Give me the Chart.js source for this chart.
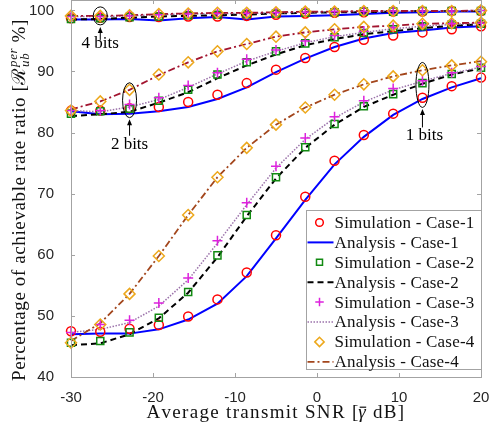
<!DOCTYPE html>
<html><head><meta charset="utf-8">
<script src="https://cdn.jsdelivr.net/npm/chart.js@4/dist/chart.umd.min.js"></script>
<style>html,body{margin:0;padding:0;background:#fff}canvas{display:block}</style>
</head><body><canvas id="c" width="491" height="434"></canvas>
<script>
// ---------------- data ----------------
const snrDb = [-30, -26.43, -22.86, -19.29, -15.71, -12.14, -8.57, -5, -1.43, 2.14, 5.71, 9.29, 12.86, 16.43, 20];
const xTickValues = [-30, -20, -10, 0, 10, 20];
const yTickValues = [40, 50, 60, 70, 80, 90, 100];
const legendLabels = ['Simulation - Case-1', 'Analysis - Case-1', 'Simulation - Case-2', 'Analysis - Case-2',
                      'Simulation - Case-3', 'Analysis - Case-3', 'Simulation - Case-4', 'Analysis - Case-4'];
const bitLabels = ['1 bits', '2 bits', '4 bits'];

// 1 bit
const sim1_b1 = [47.5, 47.4, 47.9, 48.5, 49.9, 52.7, 57.1, 63.2, 69.5, 75.4, 79.6, 83.1, 85.7, 87.6, 89.0];
const ana1_b1 = [47.0, 47.1, 47.1, 47.8, 49.4, 52.0, 56.5, 62.7, 69.0, 74.8, 79.3, 82.9, 85.5, 87.4, 88.9];
const sim2_b1 = [45.6, 45.9, 47.3, 49.7, 53.9, 59.9, 66.5, 72.7, 77.6, 81.4, 84.3, 86.3, 88.1, 89.6, 90.6];
const ana2_b1 = [45.2, 45.5, 47.0, 49.6, 53.8, 59.6, 66.3, 72.5, 77.5, 81.3, 84.2, 86.2, 88.0, 89.5, 90.5];
const sim3_b1 = [47.3, 48.6, 49.3, 52.1, 56.2, 62.3, 68.5, 74.5, 79.1, 82.6, 85.2, 87.2, 88.5, 89.8, 90.8];
const ana3_b1 = [47.3, 47.8, 48.9, 51.6, 55.9, 61.9, 68.2, 74.2, 78.9, 82.4, 85.0, 87.0, 88.4, 89.7, 90.7];
const sim4_b1 = [45.6, 48.6, 53.6, 59.8, 66.5, 72.7, 77.5, 81.3, 84.1, 86.2, 87.9, 89.2, 90.2, 91.0, 91.6];
const ana4_b1 = [45.9, 48.8, 53.6, 59.8, 66.5, 72.7, 77.5, 81.3, 84.1, 86.2, 87.9, 89.2, 90.2, 91.0, 91.7];
// 2 bits
const sim1_b2 = [83.6, 83.6, 84.0, 84.2, 85.0, 86.2, 88.1, 90.3, 92.2, 94.0, 95.2, 95.9, 96.4, 96.9, 97.4];
const ana1_b2 = [83.5, 83.0, 83.1, 83.5, 84.2, 85.5, 87.4, 89.9, 92.1, 94.0, 95.4, 96.3, 96.7, 97.2, 97.4];
const sim2_b2 = [83.1, 83.5, 83.9, 85.2, 87.0, 89.5, 91.5, 93.3, 94.6, 95.6, 96.3, 96.9, 97.4, 97.7, 97.8];
const ana2_b2 = [82.7, 83.0, 83.4, 84.9, 86.6, 88.9, 91.0, 92.8, 94.3, 95.3, 96.1, 96.6, 97.1, 97.5, 97.7];
const sim3_b2 = [83.6, 83.6, 84.6, 85.7, 87.7, 89.8, 92.0, 93.5, 95.0, 95.9, 96.6, 97.2, 97.6, 97.8, 97.9];
const ana3_b2 = [83.6, 83.4, 84.2, 85.4, 87.4, 89.6, 91.7, 93.3, 94.7, 95.7, 96.4, 97.0, 97.4, 97.7, 97.9];
const sim4_b2 = [83.6, 85.1, 87.0, 89.5, 91.5, 93.3, 94.5, 95.7, 96.4, 96.9, 97.3, 97.5, 97.8, 97.9, 98.0];
const ana4_b2 = [83.8, 85.1, 87.0, 89.4, 91.5, 93.3, 94.5, 95.7, 96.4, 96.9, 97.3, 97.5, 97.8, 97.9, 98.0];
// 4 bits
const sim1_b4 = [98.7, 98.8, 98.9, 98.9, 99.0, 99.0, 99.1, 99.3, 99.5, 99.6, 99.7, 99.8, 99.8, 99.9, 99.9];
const ana1_b4 = [98.5, 98.5, 98.6, 98.35, 98.7, 98.9, 98.5, 99.0, 99.1, 99.2, 99.4, 99.6, 99.7, 99.8, 99.8];
const sim2_b4 = [98.6, 98.7, 98.9, 99.0, 99.2, 99.3, 99.4, 99.5, 99.6, 99.7, 99.8, 99.8, 99.9, 99.9, 99.9];
const ana2_b4 = [98.5, 98.6, 98.8, 99.0, 99.1, 99.2, 99.3, 99.5, 99.6, 99.7, 99.7, 99.8, 99.9, 99.9, 99.9];
const sim3_b4 = [99.0, 99.0, 99.1, 99.3, 99.4, 99.5, 99.5, 99.6, 99.7, 99.8, 99.8, 99.9, 99.9, 99.9, 100.0];
const ana3_b4 = [99.0, 99.0, 99.1, 99.3, 99.4, 99.5, 99.5, 99.6, 99.7, 99.8, 99.8, 99.9, 99.9, 99.9, 100.0];
const sim4_b4 = [99.1, 99.1, 99.2, 99.4, 99.5, 99.6, 99.6, 99.7, 99.8, 99.8, 99.9, 99.9, 99.9, 99.9, 100.0];
const ana4_b4 = [99.1, 99.1, 99.2, 99.4, 99.5, 99.6, 99.6, 99.7, 99.8, 99.8, 99.9, 99.9, 99.9, 99.9, 100.0];

// ---------------- styles ----------------
const AXIS = '#a3a3a3';
const SERIF = '"Liberation Serif", "DejaVu Serif", serif';
const simStyle = [
  {pointStyle: 'circle',  color: '#ff0000', r: 4.5, w: 1.5},
  {pointStyle: 'rect',    color: '#128a12', r: 5,   w: 1.5},
  {pointStyle: 'cross',   color: '#dd22dd', r: 5,   w: 1.5},
  {pointStyle: 'rectRot', color: '#eda81c', r: 5.5, w: 1.5}
];
const anaStyle = [
  {color: '#0000ff', dash: [],           w: 2},
  {color: '#000000', dash: [6, 4],       w: 2},
  {color: '#9b72aa', dash: [1.5, 1.5],   w: 1.5},
  {color: '#a2142f', dash: [7, 3, 2, 3], w: 1.8}
];
const case4LineColors = ['#a3461c', '#a2142f', '#a2142f'];

const groups = [
  {sims: [sim1_b1, sim2_b1, sim3_b1, sim4_b1], anas: [ana1_b1, ana2_b1, ana3_b1, ana4_b1]},
  {sims: [sim1_b2, sim2_b2, sim3_b2, sim4_b2], anas: [ana1_b2, ana2_b2, ana3_b2, ana4_b2]},
  {sims: [sim1_b4, sim2_b4, sim3_b4, sim4_b4], anas: [ana1_b4, ana2_b4, ana3_b4, ana4_b4]}
];

const pts = arr => snrDb.map((x, i) => ({x: x, y: arr[i]}));
const datasets = [];
groups.forEach((g, gi) => g.anas.forEach((arr, k) => {
  datasets.push({
    label: legendLabels[2 * k + 1], data: pts(arr), showLine: true, pointRadius: 0, pointHoverRadius: 0,
    borderColor: k === 3 ? case4LineColors[gi] : anaStyle[k].color, borderDash: anaStyle[k].dash,
    borderWidth: anaStyle[k].w, tension: 0, fill: false, clip: false
  });
}));
groups.forEach((g, gi) => g.sims.forEach((arr, k) => {
  datasets.push({
    label: legendLabels[2 * k], data: pts(arr), showLine: false,
    pointStyle: simStyle[k].pointStyle, pointRadius: simStyle[k].r, pointBorderWidth: simStyle[k].w,
    borderColor: simStyle[k].color, backgroundColor: 'rgba(0,0,0,0)', pointBackgroundColor: 'rgba(0,0,0,0)',
    clip: false
  });
}));
datasets.forEach((d, i) => { d.order = -i; });

// annotation placements (data anchor + pixel offsets)
const notes = [
  {text: bitLabels[2], x: snrDb[1], y: 99.1, rx: 7, ry: 9,    tip: 2,   tail: 15, textOff: 19},
  {text: bitLabels[1], x: snrDb[2], y: 85.3, rx: 7, ry: 17.5, tip: 1.5, tail: 18, textOff: 27},
  {text: bitLabels[0], x: snrDb[12], y: 87.8, rx: 6.5, ry: 22.5, tip: 1.5, tail: 20, textOff: 28, dx: 2}
];

// draw a sequence of text runs with letter spacing fitted so that the total width = target
function drawRuns(ctx, runs, x, y, target) {
  let base = 0, n = 0;
  runs.forEach(r => { ctx.font = r.font; r.w = ctx.measureText(r.t).width; base += r.w; n += r.t.length; });
  const ls = target ? (target - base) / n : 0;
  let cx = x - (base + ls * n) / 2;
  runs.forEach(r => {
    ctx.font = r.font;
    let px = cx;
    for (const ch of r.t) { ctx.fillText(ch, px, y + (r.dy || 0)); px += ctx.measureText(ch).width + ls; }
    if (r.bar) ctx.fillRect(cx + 1.5, y - r.bar, r.w - 1, 1.2);
    cx += r.adv !== undefined ? r.adv : (r.w + ls * r.t.length);
  });
}

const decor = {
  id: 'decor',
  afterDatasetsDraw(chart) {
    const ctx = chart.ctx, xs = chart.scales.x, ys = chart.scales.y;
    ctx.save();
    ctx.strokeStyle = '#000'; ctx.fillStyle = '#000'; ctx.lineWidth = 1;
    ctx.font = '17px ' + SERIF; ctx.textAlign = 'center'; ctx.textBaseline = 'middle';
    notes.forEach(n => {
      const cx = xs.getPixelForValue(n.x), cy = ys.getPixelForValue(n.y);
      ctx.beginPath(); ctx.ellipse(cx, cy, n.rx, n.ry, 0, 0, Math.PI * 2); ctx.stroke();
      const tipY = cy + n.ry + n.tip, tailY = cy + n.ry + n.tail;
      ctx.beginPath(); ctx.moveTo(cx, tailY); ctx.lineTo(cx, tipY + 4); ctx.stroke();
      ctx.beginPath(); ctx.moveTo(cx, tipY); ctx.lineTo(cx - 2.5, tipY + 6); ctx.lineTo(cx + 2.5, tipY + 6); ctx.closePath(); ctx.fill();
      ctx.fillText(n.text, cx + (n.dx || 0), cy + n.ry + n.textOff);
    });
    ctx.restore();
  },
  afterDraw(chart) {
    const ctx = chart.ctx, a = chart.chartArea, xs = chart.scales.x, ys = chart.scales.y;
    ctx.save();
    // box + inward ticks
    ctx.strokeStyle = AXIS; ctx.lineWidth = 1;
    ctx.strokeRect(Math.round(a.left) + 0.5, Math.round(a.top) + 0.5, Math.round(a.right - a.left), Math.round(a.bottom - a.top));
    ctx.beginPath();
    xTickValues.forEach(v => {
      const p = Math.round(xs.getPixelForValue(v)) + 0.5;
      ctx.moveTo(p, a.bottom); ctx.lineTo(p, a.bottom - 4);
      ctx.moveTo(p, a.top); ctx.lineTo(p, a.top + 4);
    });
    yTickValues.forEach(v => {
      const p = Math.round(ys.getPixelForValue(v)) + 0.5;
      ctx.moveTo(a.left, p); ctx.lineTo(a.left + 4, p);
      ctx.moveTo(a.right, p); ctx.lineTo(a.right - 4, p);
    });
    ctx.stroke();

    // x title
    ctx.fillStyle = '#111'; ctx.textBaseline = 'alphabetic'; ctx.textAlign = 'left';
    const F = 19;
    const rom = F + 'px ' + SERIF, ita = 'italic ' + F + 'px ' + SERIF;
    drawRuns(ctx, [
      {t: 'Average transmit SNR [', font: rom},
      {t: '\u03B3', font: ita, bar: F * 0.6},
      {t: ' dB]', font: rom}
    ], (a.left + a.right) / 2, 418, 259);

    // y title (rotated)
    ctx.save();
    ctx.translate(25, 193);
    ctx.rotate(-Math.PI / 2);
    const sm = 'italic ' + (F * 0.68) + 'px ' + SERIF;
    ctx.font = sm;
    const supW = ctx.measureText('per').width;
    drawRuns(ctx, [
      {t: 'Percentage of achievable rate ratio [', font: rom},
      {t: '\u211B', font: rom},
      {t: 'ub', font: sm, dy: 4, adv: 0},
      {t: 'per', font: sm, dy: -8},
      {t: ' %]', font: rom}
    ], 0, 0, 376);
    ctx.restore();

    // legend
    const lw = 175, lh = 159;
    const lx = Math.round(a.right - lw) + 0.5, ly = Math.round(a.bottom - 8 - lh) + 0.5;
    ctx.fillStyle = '#fff'; ctx.fillRect(lx, ly, lw, lh);
    ctx.strokeStyle = AXIS; ctx.lineWidth = 1; ctx.strokeRect(lx, ly, lw, lh);
    legendLabels.forEach((lab, i) => {
      const cy = ly + 12 + i * 19.9;
      const k = Math.floor(i / 2);
      if (i % 2 === 0) {
        const s = simStyle[k];
        ctx.strokeStyle = s.color; ctx.fillStyle = 'rgba(0,0,0,0)'; ctx.lineWidth = s.w;
        Chart.helpers.drawPoint(ctx, {pointStyle: s.pointStyle, radius: s.r * 0.85, borderWidth: s.w, rotation: 0}, lx + 13, cy);
      } else {
        const s = anaStyle[k];
        ctx.save();
        ctx.strokeStyle = k === 3 ? case4LineColors[0] : s.color; ctx.lineWidth = s.w; ctx.setLineDash(s.dash);
        ctx.beginPath(); ctx.moveTo(lx + 1, cy); ctx.lineTo(lx + 27, cy); ctx.stroke();
        ctx.restore();
      }
      ctx.fillStyle = '#111'; ctx.textAlign = 'left'; ctx.textBaseline = 'middle';
      ctx.font = '17px ' + SERIF;
      const w = ctx.measureText(lab).width;
      const target = 140 * w / (function(){ return ctx.measureText(legendLabels[0]).width; })();
      drawRuns(ctx, [{t: lab, font: '17px ' + SERIF}], lx + 28 + target / 2, cy + 1, target);
      ctx.textAlign = 'left';
    });
    ctx.restore();
  }
};

new Chart(document.getElementById('c'), {
  type: 'scatter',
  data: {datasets: datasets},
  options: {
    responsive: false, animation: false, devicePixelRatio: 1,
    layout: {padding: {left: 0, right: 10, top: 0, bottom: 0}, autoPadding: false},
    plugins: {legend: {display: false}, tooltip: {enabled: false}},
    scales: {
      x: {
        type: 'linear', min: -30, max: 20,
        grid: {display: false}, border: {display: false},
        ticks: {font: {family: '"Liberation Sans", Arial, sans-serif', size: 15}, color: '#262626', padding: 4, maxRotation: 0},
        afterBuildTicks: s => { s.ticks = xTickValues.map(v => ({value: v})); },
        afterFit: s => { s.height = 57; s.paddingLeft = 0; s.paddingRight = 0; }
      },
      y: {
        type: 'linear', min: 40, max: 101.7,
        grid: {display: false}, border: {display: false},
        ticks: {font: {family: '"Liberation Sans", Arial, sans-serif', size: 15}, color: '#262626', padding: 9, includeBounds: false},
        afterBuildTicks: s => { s.ticks = yTickValues.map(v => ({value: v})); },
        afterFit: s => { s.width = 71; s.paddingTop = 0; s.paddingBottom = 0; }
      }
    }
  },
  plugins: [decor]
});
</script></body></html>
